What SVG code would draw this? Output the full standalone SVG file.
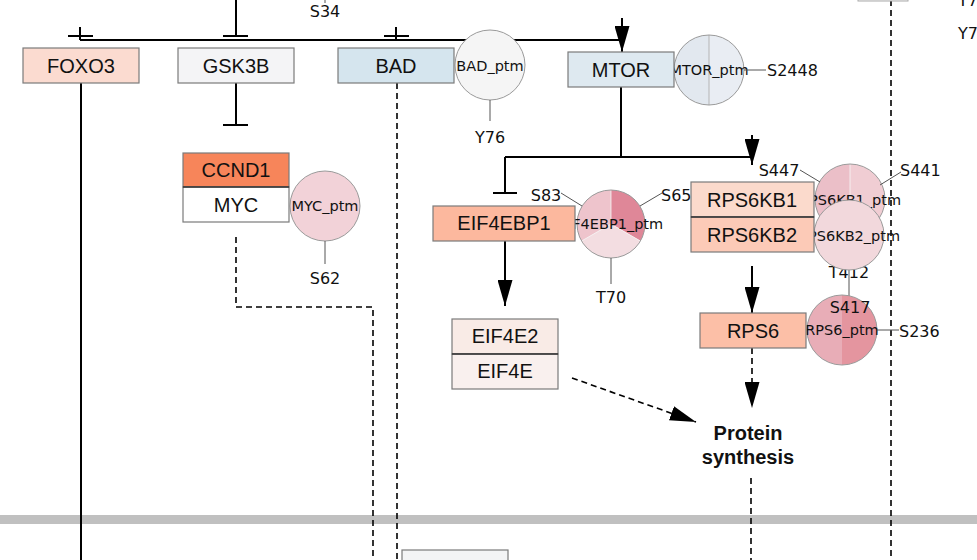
<svg xmlns="http://www.w3.org/2000/svg" width="977" height="560" viewBox="0 0 977 560">
<style>
.box{stroke:#7b7b7b;stroke-width:1.2}
.div{stroke:#333;stroke-width:1.5}
.lbl{font-family:"Liberation Sans",Arial,sans-serif;font-size:20px;fill:#111;text-anchor:middle;dominant-baseline:central}
.ptm{font-family:"DejaVu Sans",sans-serif;font-size:14.5px;fill:#111;text-anchor:middle;dominant-baseline:central}
.site{font-family:"DejaVu Sans",sans-serif;font-size:16px;fill:#111}
.circ{fill:none;stroke:#9a9a9a;stroke-width:1}
.sl{stroke:#555;stroke-width:1;fill:none}
.e{stroke:#000;stroke-width:2;fill:none}
.d{stroke:#000;stroke-width:1.6;fill:none;stroke-dasharray:6 4}
.ph{font-family:"Liberation Sans",Arial,sans-serif;font-size:20px;font-weight:bold;fill:#111;text-anchor:middle}
</style>
<defs>
<marker id="arr" viewBox="0 0 26 15" refX="26" refY="7.5" markerWidth="26" markerHeight="15" orient="auto" markerUnits="userSpaceOnUse"><path d="M0,0 L26,7.5 L0,15 z" fill="#000"/></marker>
</defs>
<rect x="0" y="515" width="977" height="9" fill="#c0c0c0"/>
<g id="connectors">
<path class="e" d="M80,40 H620"/>
<path class="e" d="M80,27 V40 M68,36 H93"/>
<path class="e" d="M236,0 V36 M223,36 H248"/>
<path class="e" d="M396,27 V40 M384,36 H409"/>
<path class="e" d="M622,18 V52" marker-end="url(#arr)"/>
<path class="e" d="M236,83 V125 M223,125 H248"/>
<path class="e" d="M81,83 V560"/>
<path class="d" d="M236,237 V307 H373 V560"/>
<path class="d" d="M397,83 V560"/>
<path class="e" d="M621,87 V157 M505,157 H752 M505,157 V193 M493,193 H517"/>
<path class="e" d="M752,135 V165" marker-end="url(#arr)"/>
<path class="e" d="M505,241 V306" marker-end="url(#arr)"/>
<path class="e" d="M752,266 V313" marker-end="url(#arr)"/>
<path class="d" d="M752,348 V408" marker-end="url(#arr)"/>
<path class="d" d="M572,378 L696,422" marker-end="url(#arr)"/>
<path class="d" d="M751,478 V560"/>
<path class="d" d="M891,0 V560"/>
</g>
<g id="topright">
<rect x="858" y="-40" width="50" height="41" fill="#f3f3f3" stroke="#aaa"/>
<text class="site" x="958" y="6">Y7</text>
<text class="site" x="958" y="39">Y7</text>
</g>
<g id="S34-site">
<line class="sl" x1="325" y1="0" x2="325" y2="3"/>
<text class="site" x="325" y="17" text-anchor="middle">S34</text>
</g>
<g id="FOXO3">
<rect class="box" x="23" y="48" width="116" height="35" fill="#fbdbd0"/>
<text class="lbl" x="81" y="66">FOXO3</text>
</g>
<g id="GSK3B">
<rect class="box" x="178" y="48" width="116" height="35" fill="#f4f4f6"/>
<text class="lbl" x="236" y="66">GSK3B</text>
</g>
<g id="BAD_ptm">
<circle cx="490" cy="65" r="35" fill="#f5f5f5" stroke="#9a9a9a"/>
<text class="ptm" x="490" y="66">BAD_ptm</text>
<line class="sl" x1="490" y1="100" x2="490" y2="121"/>
<text class="site" x="490" y="143" text-anchor="middle">Y76</text>
</g>
<g id="BAD">
<rect class="box" x="338" y="48" width="116" height="35" fill="#d5e5ee"/>
<text class="lbl" x="396" y="66">BAD</text>
</g>
<g id="MTOR_ptm">
<path d="M709,35 A35,35 0 0 0 709,105 Z" fill="#e2e8ef"/>
<path d="M709,35 A35,35 0 0 1 709,105 Z" fill="#e9edf3"/>
<line x1="709" y1="35" x2="709" y2="105" stroke="#b5b5b5"/>
<circle class="circ" cx="709" cy="70" r="35"/>
<text class="ptm" x="709" y="70">MTOR_ptm</text>
<line class="sl" x1="744" y1="70" x2="766" y2="70"/>
<text class="site" x="767" y="76">S2448</text>
</g>
<g id="MTOR">
<rect class="box" x="568" y="52" width="106" height="35" fill="#dee9f0"/>
<text class="lbl" x="621" y="70">MTOR</text>
</g>
<g id="MYC_ptm">
<circle cx="325" cy="206" r="35" fill="#f2d2d8" stroke="#9a9a9a"/>
<text class="ptm" x="325" y="206">MYC_ptm</text>
<line class="sl" x1="325" y1="241" x2="325" y2="264"/>
<text class="site" x="325" y="284" text-anchor="middle">S62</text>
</g>
<g id="CCND1_MYC">
<rect class="box" x="183" y="153" width="106" height="34" fill="#f7855a"/>
<rect class="box" x="183" y="187" width="106" height="35" fill="#ffffff"/>
<line class="div" x1="183" y1="187" x2="289" y2="187"/>
<text class="lbl" x="236" y="170">CCND1</text>
<text class="lbl" x="236" y="205">MYC</text>
</g>
<g id="EIF4EBP1_ptm">
<path d="M611,224 L611,190 A34,34 0 0 1 640.4,241 Z" fill="#df8798"/>
<path d="M611,224 L640.4,241 A34,34 0 0 1 581.6,241 Z" fill="#f3dde1"/>
<path d="M611,224 L581.6,241 A34,34 0 0 1 611,190 Z" fill="#eec4cc"/>
<path d="M611,224 L611,190 M611,224 L640.4,241 M611,224 L581.6,241" stroke="#f5f5f5" stroke-width="0.8"/>
<circle class="circ" cx="611" cy="224" r="34"/>
<text class="ptm" x="611" y="224">EIF4EBP1_ptm</text>
<line class="sl" x1="582" y1="206" x2="561" y2="193"/>
<text class="site" x="546" y="201" text-anchor="middle">S83</text>
<line class="sl" x1="640" y1="206" x2="662" y2="193"/>
<text class="site" x="661" y="201">S65</text>
<line class="sl" x1="611" y1="258" x2="611" y2="284"/>
<text class="site" x="611" y="303" text-anchor="middle">T70</text>
</g>
<g id="EIF4EBP1">
<rect class="box" x="433" y="206" width="142" height="35" fill="#fcb89e"/>
<text class="lbl" x="504" y="223">EIF4EBP1</text>
</g>
<g id="EIF4E2_EIF4E">
<rect class="box" x="452" y="319" width="106" height="35" fill="#f9ebe6"/>
<rect class="box" x="452" y="354" width="106" height="35" fill="#f9f0ee"/>
<line class="div" x1="452" y1="354" x2="558" y2="354"/>
<text class="lbl" x="505" y="336">EIF4E2</text>
<text class="lbl" x="505" y="371">EIF4E</text>
</g>
<g id="RPS6KB1_ptm">
<path d="M850,164 A35,35 0 0 0 850,234 Z" fill="#ebbfc8"/>
<path d="M850,164 A35,35 0 0 1 850,234 Z" fill="#f0cdd3"/>
<line x1="850" y1="164" x2="850" y2="234" stroke="#f7f7f7" stroke-width="0.8"/>
<circle class="circ" cx="850" cy="199" r="35"/>
<text class="ptm" x="850" y="200">RPS6KB1_ptm</text>
<line class="sl" x1="800" y1="170" x2="820" y2="182"/>
<text class="site" x="779" y="176" text-anchor="middle">S447</text>
<line class="sl" x1="880" y1="185" x2="901" y2="172"/>
<text class="site" x="900" y="176">S441</text>
</g>
<g id="RPS6KB2_ptm">
<line class="sl" x1="849" y1="262" x2="849" y2="296"/>
<text class="site" x="849" y="278" text-anchor="middle">T412</text>
<circle cx="849" cy="235" r="35" fill="#f2d8dc" stroke="#9a9a9a"/>
<text class="ptm" x="849" y="236">RPS6KB2_ptm</text>
</g>
<g id="RPS6KB1_RPS6KB2">
<rect class="box" x="691" y="182" width="123" height="35" fill="#fbdacc"/>
<rect class="box" x="691" y="217" width="123" height="35" fill="#fccab7"/>
<line class="div" x1="691" y1="217" x2="814" y2="217"/>
<text class="lbl" x="752" y="200">RPS6KB1</text>
<text class="lbl" x="752" y="235">RPS6KB2</text>
</g>
<g id="RPS6_ptm">
<path d="M842,295 A35,35 0 0 0 842,365 Z" fill="#e8adb7"/>
<path d="M842,295 A35,35 0 0 1 842,365 Z" fill="#e4959f"/>
<circle class="circ" cx="842" cy="330" r="35"/>
<text class="site" x="850" y="313" text-anchor="middle">S417</text>
<text class="ptm" x="842" y="330">RPS6_ptm</text>
<line class="sl" x1="877" y1="330" x2="899" y2="330"/>
<text class="site" x="899" y="337">S236</text>
</g>
<g id="RPS6">
<rect class="box" x="700" y="313" width="106" height="35" fill="#fcbfa7"/>
<text class="lbl" x="753" y="331">RPS6</text>
</g>
<g id="Protein_synthesis">
<text class="ph" x="748" y="440">Protein</text>
<text class="ph" x="748" y="464">synthesis</text>
</g>
<g id="bottom_node">
<rect class="box" x="402" y="550" width="106" height="35" fill="#f3f4f5"/>
</g>
</svg>
